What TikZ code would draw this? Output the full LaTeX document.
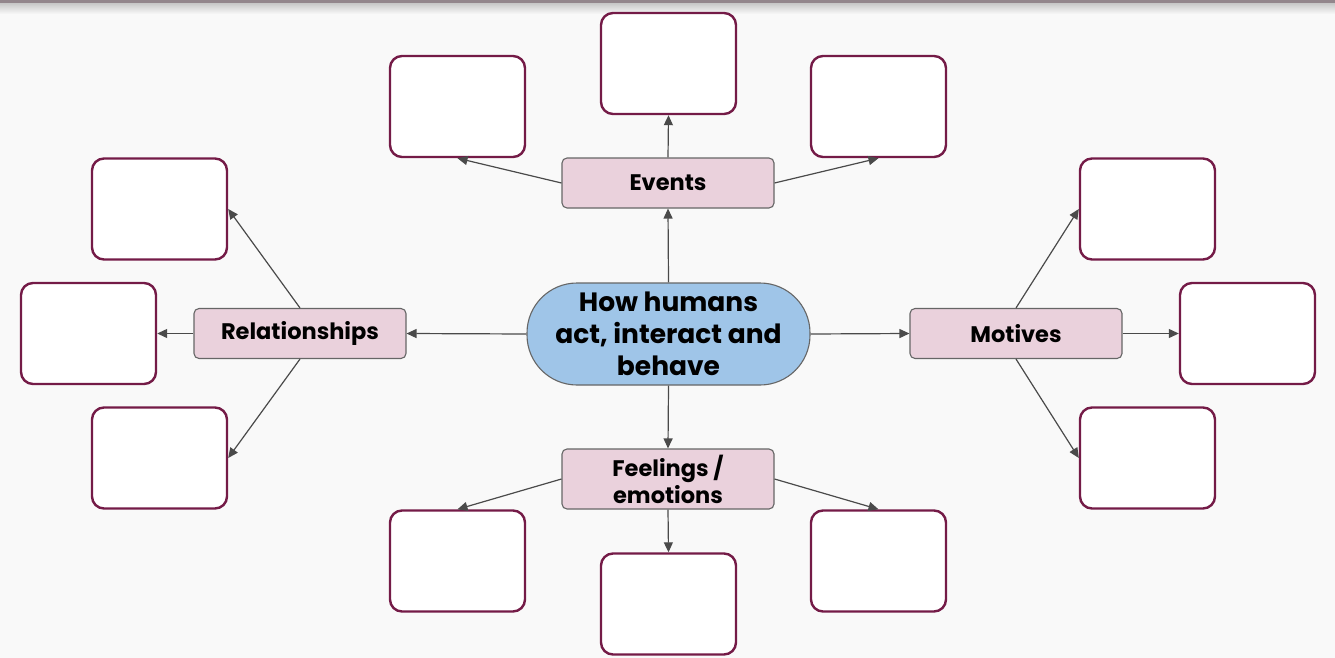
\documentclass[tikz,border=0pt]{standalone}
\usepackage{fontspec}
\setmainfont{Poppins}
\usetikzlibrary{arrows.meta}
\definecolor{bg}{HTML}{F9F9F9}
\definecolor{maroon}{HTML}{741B47}
\definecolor{pinkfill}{HTML}{EAD1DC}
\definecolor{bluefill}{HTML}{9FC5E8}
\definecolor{edgegray}{HTML}{666666}
\definecolor{arrowgray}{HTML}{4A4A4A}
\tikzset{
  x=1pt, y=-1pt,
  blank/.style={draw=maroon, line width=2.4pt, fill=white, rounded corners=12pt,
    minimum width=135pt, minimum height=101pt, inner sep=0pt},
  topic/.style={draw=edgegray, line width=1.1pt, fill=pinkfill, rounded corners=5pt,
    minimum width=212pt, minimum height=50pt, inner sep=2pt, align=center,
    font=\fontsize{22.5}{27}\selectfont\bfseries},
  hub/.style={draw=edgegray, line width=1.1pt, fill=bluefill, rounded corners=50pt,
    minimum width=283pt, minimum height=102pt, inner sep=0pt, align=center,
    font=\fontsize{26.5}{32}\selectfont\bfseries},
  link/.style={draw=arrowgray, line width=1.2pt, -{Triangle[length=10pt,width=9pt]}},
}
\begin{document}
\begin{tikzpicture}
\fill[bg] (0,0) rectangle (1335,658);
\shade[top color=black!22, bottom color=bg] (0,3) rectangle (1335,14);
\fill[black!35!pinkfill!80!gray] (0,0) rectangle (1335,3);
\useasboundingbox (0,0) rectangle (1335,658);

% hub and topics
\node[hub] (hub) at (668.5,334) {How humans\\act, interact and\\behave};
\node[topic] (ev) at (668,183) {Events};
\node[topic] (rel) at (300,333.5) {Relationships};
\node[topic] (mot) at (1016,333.5) {Motives};
\node[topic, minimum height=60pt] (fe) at (668,479) {Feelings /\\emotions};

% blank boxes
\node[blank] (et) at (668.5,63.5) {};
\node[blank] (el) at (457.5,106.5) {};
\node[blank] (er) at (878.5,106.5) {};
\node[blank] (rt) at (159.5,209) {};
\node[blank] (rm) at (88.5,333.5) {};
\node[blank] (rb) at (159.5,458) {};
\node[blank] (mt) at (1147.5,209) {};
\node[blank] (mm) at (1247.5,333.5) {};
\node[blank] (mb) at (1147.5,458) {};
\node[blank] (fl) at (457.5,561) {};
\node[blank] (fm) at (668.5,604) {};
\node[blank] (fr) at (878.5,561) {};

% connectors
\draw[link] (hub.north) -- (ev.south);
\draw[link] (hub.south) -- (fe.north);
\draw[link] (hub.west) -- (rel.east);
\draw[link] (hub.east) -- (mot.west);

\draw[link] (ev.north) -- (et.south);
\draw[link] (ev.west) -- (el.south);
\draw[link] (ev.east) -- (er.south);

\draw[link] (rel.west) -- (rm.east);
\draw[link] (rel.north) -- (rt.east);
\draw[link] (rel.south) -- (rb.east);

\draw[link] (mot.east) -- (mm.west);
\draw[link] (mot.north) -- (mt.west);
\draw[link] (mot.south) -- (mb.west);

\draw[link] (fe.south) -- (fm.north);
\draw[link] (fe.west) -- (fl.north);
\draw[link] (fe.east) -- (fr.north);
\end{tikzpicture}
\end{document}
